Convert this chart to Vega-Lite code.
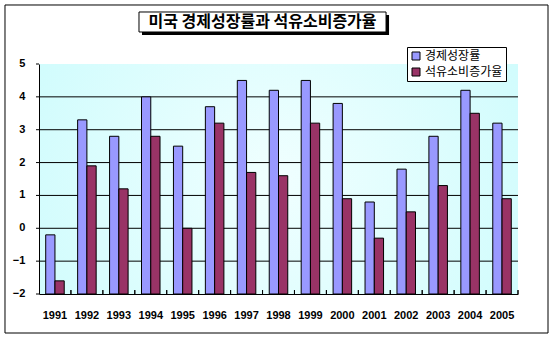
{
  "$schema": "https://vega.github.io/schema/vega-lite/v6.json",
  "width": 479,
  "height": 230,
  "autosize": {"type": "none"},
  "padding": {"left": 39, "top": 64, "right": 37, "bottom": 50},
  "background": "white",
  "config": {
    "view": {
      "stroke": null,
      "fill": {"gradient": "radial", "x1": 0.5, "y1": 0.5, "r1": 0, "x2": 0.5, "y2": 0.5, "r2": 0.75,
        "stops": [{"offset": 0, "color": "#F0FFFF"}, {"offset": 1, "color": "#C6FBFC"}]}
    },
    "axisY": {
      "title": null, "labels": false, "ticks": false, "grid": false, "domainColor": "black"
    },
    "axisX": {
      "title": null, "labelAngle": 0, "labelFont": "Liberation Sans", "labelFontWeight": "bold",
      "labelFontSize": 11, "labelColor": "black", "labelPadding": 15, "labelOverlap": false,
      "bandPosition": 0.5, "ticks": false, "domainColor": "black", "grid": false
    }
  },
  "datasets": {
    "rates": [
      {"year": "1991", "series": "경제성장률", "value": -0.2},
      {"year": "1991", "series": "석유소비증가율", "value": -1.6},
      {"year": "1992", "series": "경제성장률", "value": 3.3},
      {"year": "1992", "series": "석유소비증가율", "value": 1.9},
      {"year": "1993", "series": "경제성장률", "value": 2.8},
      {"year": "1993", "series": "석유소비증가율", "value": 1.2},
      {"year": "1994", "series": "경제성장률", "value": 4.0},
      {"year": "1994", "series": "석유소비증가율", "value": 2.8},
      {"year": "1995", "series": "경제성장률", "value": 2.5},
      {"year": "1995", "series": "석유소비증가율", "value": 0.0},
      {"year": "1996", "series": "경제성장률", "value": 3.7},
      {"year": "1996", "series": "석유소비증가율", "value": 3.2},
      {"year": "1997", "series": "경제성장률", "value": 4.5},
      {"year": "1997", "series": "석유소비증가율", "value": 1.7},
      {"year": "1998", "series": "경제성장률", "value": 4.2},
      {"year": "1998", "series": "석유소비증가율", "value": 1.6},
      {"year": "1999", "series": "경제성장률", "value": 4.5},
      {"year": "1999", "series": "석유소비증가율", "value": 3.2},
      {"year": "2000", "series": "경제성장률", "value": 3.8},
      {"year": "2000", "series": "석유소비증가율", "value": 0.9},
      {"year": "2001", "series": "경제성장률", "value": 0.8},
      {"year": "2001", "series": "석유소비증가율", "value": -0.3},
      {"year": "2002", "series": "경제성장률", "value": 1.8},
      {"year": "2002", "series": "석유소비증가율", "value": 0.5},
      {"year": "2003", "series": "경제성장률", "value": 2.8},
      {"year": "2003", "series": "석유소비증가율", "value": 1.3},
      {"year": "2004", "series": "경제성장률", "value": 4.2},
      {"year": "2004", "series": "석유소비증가율", "value": 3.5},
      {"year": "2005", "series": "경제성장률", "value": 3.2},
      {"year": "2005", "series": "석유소비증가율", "value": 0.9}
    ],
    "yticks": [
      {"g": -2}, {"g": -1}, {"g": 0}, {"g": 1}, {"g": 2}, {"g": 3}, {"g": 4}, {"g": 5}
    ]
  },
  "data": {"name": "rates"},
  "layer": [
    {
      "data": {"name": "yticks"},
      "transform": [{"filter": "datum.g > -2 && datum.g < 5"}],
      "mark": {"type": "rule", "color": "black", "strokeWidth": 1},
      "encoding": {
        "y": {"field": "g", "type": "quantitative"}
      }
    },
    {
      "mark": {"type": "bar", "stroke": "black", "strokeWidth": 1},
      "encoding": {
        "x": {
          "field": "year", "type": "nominal", "title": null,
          "scale": {"paddingInner": 0.42, "paddingOuter": 0.21}
        },
        "xOffset": {"field": "series", "type": "nominal", "sort": ["경제성장률", "석유소비증가율"]},
        "y": {
          "field": "value", "type": "quantitative", "title": null,
          "scale": {"domain": [-2, 5], "nice": false, "zero": false}
        },
        "y2": {"datum": -2},
        "color": {
          "field": "series", "type": "nominal",
          "scale": {"domain": ["경제성장률", "석유소비증가율"], "range": ["#9999FF", "#993366"]},
          "legend": {
            "title": null, "orient": "none", "legendX": 368, "legendY": -17,
            "strokeColor": "black", "fillColor": "white", "padding": 3, "cornerRadius": 0,
            "symbolType": "square", "symbolSize": 64, "symbolStrokeColor": "black", "symbolStrokeWidth": 1,
            "symbolOpacity": 1,
            "labelFont": "Noto Sans CJK KR", "labelFontSize": 12, "labelColor": "black", "labelOffset": 3,
            "rowPadding": 4
          }
        }
      }
    },
    {
      "mark": {"type": "rule", "color": "black", "strokeWidth": 1},
      "encoding": {
        "x": {"field": "year", "type": "nominal", "bandPosition": 1.362},
        "y": {"datum": -2, "type": "quantitative"},
        "y2": {"datum": -1.88}
      }
    },
    {
      "data": {"name": "yticks"},
      "mark": {"type": "rule", "color": "black", "strokeWidth": 1},
      "encoding": {
        "x": {"datum": "1991", "type": "nominal", "bandPosition": -0.524},
        "x2": {"datum": "1991", "bandPosition": -0.362},
        "y": {"field": "g", "type": "quantitative"}
      }
    },
    {
      "data": {"name": "yticks"},
      "mark": {"type": "text", "font": "Liberation Sans", "fontWeight": "bold", "fontSize": 11, "color": "black", "align": "right", "baseline": "middle"},
      "encoding": {
        "x": {"datum": "1991", "type": "nominal", "bandPosition": -1.1},
        "y": {"field": "g", "type": "quantitative"},
        "text": {"field": "g", "type": "quantitative", "format": "d"}
      }
    },
    {
      "data": {"values": [{"k": "frame"}]},
      "mark": {"type": "rect", "fill": null, "fillOpacity": 0, "stroke": "black", "strokeWidth": 1},
      "encoding": {
        "x": {"datum": "1991", "type": "nominal", "bandPosition": -2.198},
        "x2": {"datum": "2005", "bandPosition": 2.982},
        "y": {"datum": 6.796, "type": "quantitative"},
        "y2": {"datum": -3.187}
      }
    },
    {
      "data": {"values": [{"k": "shadow"}]},
      "mark": {"type": "rect", "fill": "black", "stroke": null, "xOffset": 3, "x2Offset": 3, "yOffset": 3, "y2Offset": 3},
      "encoding": {
        "x": {"datum": "1991", "type": "nominal", "bandPosition": 5.037},
        "x2": {"datum": "1991", "bandPosition": 18.375},
        "y": {"datum": 6.583, "type": "quantitative"},
        "y2": {"datum": 5.974}
      }
    },
    {
      "data": {"values": [{"k": "box"}]},
      "mark": {"type": "rect", "fill": "white", "stroke": "black", "strokeWidth": 1},
      "encoding": {
        "x": {"datum": "1991", "type": "nominal", "bandPosition": 5.037},
        "x2": {"datum": "1991", "bandPosition": 18.375},
        "y": {"datum": 6.583, "type": "quantitative"},
        "y2": {"datum": 5.974}
      }
    },
    {
      "data": {"values": [{"t": "미국 경제성장률과 석유소비증가율"}]},
      "mark": {"type": "text", "font": "Noto Sans CJK KR", "fontWeight": "bold", "fontSize": 16, "color": "black", "align": "center", "baseline": "middle"},
      "encoding": {
        "x": {"datum": "1991", "type": "nominal", "bandPosition": 11.706},
        "y": {"datum": 6.278, "type": "quantitative"},
        "text": {"field": "t"}
      }
    }
  ]
}
